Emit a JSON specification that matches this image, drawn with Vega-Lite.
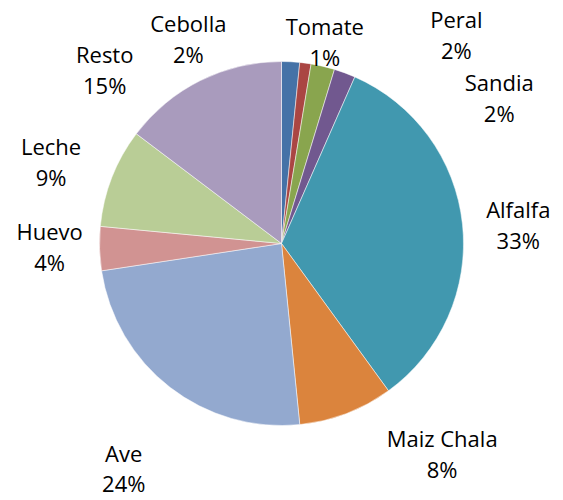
{
  "$schema": "https://vega.github.io/schema/vega-lite/v6.json",
  "width": 563,
  "height": 487,
  "autosize": {"type": "none"},
  "padding": {"left": 0, "right": 0, "top": 0, "bottom": 13},
  "background": "white",
  "view": {"stroke": null},
  "data": {
    "values": [
      {"order": 1, "name": "Cebolla", "value": 1.6, "label": "Cebolla\n2%"},
      {"order": 2, "name": "Tomate", "value": 1.0, "label": "Tomate\n1%"},
      {"order": 3, "name": "Peral", "value": 2.1, "label": "Peral\n2%"},
      {"order": 4, "name": "Sandia", "value": 1.9, "label": "Sandia\n2%"},
      {"order": 5, "name": "Alfalfa", "value": 33.4, "label": "Alfalfa\n33%"},
      {"order": 6, "name": "Maiz Chala", "value": 8.4, "label": "Maiz Chala\n8%"},
      {"order": 7, "name": "Ave", "value": 24.2, "label": "Ave\n24%"},
      {"order": 8, "name": "Huevo", "value": 3.9, "label": "Huevo\n4%"},
      {"order": 9, "name": "Leche", "value": 8.8, "label": "Leche\n9%"},
      {"order": 10, "name": "Resto", "value": 14.7, "label": "Resto\n15%"}
    ]
  },
  "transform": [
    {"window": [{"op": "sum", "field": "value", "as": "s1"}], "sort": [{"field": "order"}], "frame": [null, 0]},
    {"calculate": "datum.s1 - datum.value", "as": "s0"},
    {"calculate": "datum.s1 - datum.value / 2", "as": "mid"}
  ],
  "encoding": {
    "theta": {"field": "mid", "type": "quantitative", "scale": {"domain": [0, 100]}}
  },
  "layer": [
    {
      "mark": {"type": "arc", "radius": 182, "stroke": "white", "strokeWidth": 0.5},
      "encoding": {
        "theta": {"field": "s0", "type": "quantitative", "scale": {"domain": [0, 100]}},
        "theta2": {"field": "s1"},
        "color": {
          "field": "name",
          "type": "nominal",
          "scale": {
            "domain": ["Cebolla", "Tomate", "Peral", "Sandia", "Alfalfa", "Maiz Chala", "Ave", "Huevo", "Leche", "Resto"],
            "range": ["#4572A7", "#AA4643", "#89A54E", "#71588F", "#4198AF", "#DB843D", "#93A9CF", "#D19392", "#B9CD96", "#A99BBD"]
          },
          "legend": null
        }
      }
    },
    {"transform": [{"filter": "datum.name === 'Cebolla'"}], "mark": {"type": "text", "radius": 215, "dx": -104, "dy": 3, "align": "center", "baseline": "alphabetic", "font": "Open Sans", "fontSize": 22, "lineBreak": "\n", "lineHeight": 31, "color": "#000000"}, "encoding": {"text": {"field": "label"}}},
    {"transform": [{"filter": "datum.name === 'Tomate'"}], "mark": {"type": "text", "radius": 215, "dx": 15, "dy": 5, "align": "center", "baseline": "alphabetic", "font": "Open Sans", "fontSize": 22, "lineBreak": "\n", "lineHeight": 31, "color": "#000000"}, "encoding": {"text": {"field": "label"}}},
    {"transform": [{"filter": "datum.name === 'Peral'"}], "mark": {"type": "text", "radius": 215, "dx": 126, "dy": -6, "align": "center", "baseline": "alphabetic", "font": "Open Sans", "fontSize": 22, "lineBreak": "\n", "lineHeight": 31, "color": "#000000"}, "encoding": {"text": {"field": "label"}}},
    {"transform": [{"filter": "datum.name === 'Sandia'"}], "mark": {"type": "text", "radius": 215, "dx": 143, "dy": 49, "align": "center", "baseline": "alphabetic", "font": "Open Sans", "fontSize": 22, "lineBreak": "\n", "lineHeight": 31, "color": "#000000"}, "encoding": {"text": {"field": "label"}}},
    {"transform": [{"filter": "datum.name === 'Alfalfa'"}], "mark": {"type": "text", "radius": 215, "dx": 23, "dy": -3, "align": "center", "baseline": "alphabetic", "font": "Open Sans", "fontSize": 22, "lineBreak": "\n", "lineHeight": 31, "color": "#000000"}, "encoding": {"text": {"field": "label"}}},
    {"transform": [{"filter": "datum.name === 'Maiz Chala'"}], "mark": {"type": "text", "radius": 215, "dx": 84, "dy": 3, "align": "center", "baseline": "alphabetic", "font": "Open Sans", "fontSize": 22, "lineBreak": "\n", "lineHeight": 31, "color": "#000000"}, "encoding": {"text": {"field": "label"}}},
    {"transform": [{"filter": "datum.name === 'Ave'"}], "mark": {"type": "text", "radius": 215, "dx": -26, "dy": 49, "align": "center", "baseline": "alphabetic", "font": "Open Sans", "fontSize": 22, "lineBreak": "\n", "lineHeight": 30, "color": "#000000"}, "encoding": {"text": {"field": "label"}}},
    {"transform": [{"filter": "datum.name === 'Huevo'"}], "mark": {"type": "text", "radius": 215, "dx": -17, "dy": -10, "align": "center", "baseline": "alphabetic", "font": "Open Sans", "fontSize": 22, "lineBreak": "\n", "lineHeight": 31, "color": "#000000"}, "encoding": {"text": {"field": "label"}}},
    {"transform": [{"filter": "datum.name === 'Leche'"}], "mark": {"type": "text", "radius": 215, "dx": -30, "dy": -11, "align": "center", "baseline": "alphabetic", "font": "Open Sans", "fontSize": 22, "lineBreak": "\n", "lineHeight": 31, "color": "#000000"}, "encoding": {"text": {"field": "label"}}},
    {"transform": [{"filter": "datum.name === 'Resto'"}], "mark": {"type": "text", "radius": 215, "dx": -81, "dy": 12, "align": "center", "baseline": "alphabetic", "font": "Open Sans", "fontSize": 22, "lineBreak": "\n", "lineHeight": 31, "color": "#000000"}, "encoding": {"text": {"field": "label"}}}
  ]
}
